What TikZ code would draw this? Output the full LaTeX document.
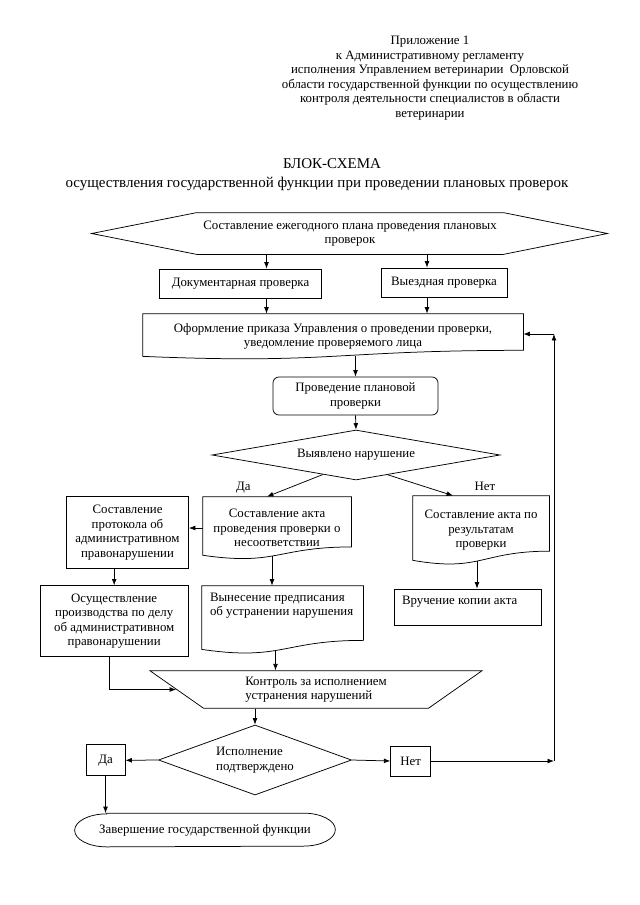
\documentclass[tikz,border=0pt]{standalone}
\usepackage{fontspec}
\setmainfont{Liberation Serif}
\usetikzlibrary{calc,arrows.meta,shapes.geometric,positioning}

\newdimen\pxlen
\pxlen=0.328125mm
\newcommand\bodyfont{\fontsize{12}{13.5}\selectfont}
\newcommand\titlefont{\fontsize{14}{16}\selectfont}

% outline of a document block (wavy bottom)
\newcommand\docoutline[1]{%
  \draw (#1.north west) -- (#1.north east)
    -- ($(#1.north east)!0.802!(#1.south east)$)
    .. controls ($(#1.north)!0.802!(#1.south)$) and ($(#1.north)!1.107!(#1.south)$)
    .. ($(#1.north west)!0.934!(#1.south west)$) -- cycle;}
% outline of the terminator
\newcommand\termoutline[1]{%
  \draw ([xshift=32\pxlen]#1.north west) -- ([xshift=-32\pxlen]#1.north east)
    arc[start angle=90, end angle=-90, x radius=32\pxlen, y radius=16.5\pxlen]
    -- ([xshift=32\pxlen]#1.south west)
    arc[start angle=270, end angle=90, x radius=32\pxlen, y radius=16.5\pxlen] -- cycle;}

\begin{document}
\begin{tikzpicture}[x=0.328125mm, y=-0.328125mm, >={Latex[length=6pt,width=4.5pt]}, line width=0.7pt,
    every node/.style={font=\bodyfont, inner sep=2pt},
    box/.style={draw, rectangle, align=center},
    plainbox/.style={rectangle, align=center},
    roundbox/.style={box, rounded corners=6\pxlen},
    decision/.style={draw, diamond, inner sep=0pt},
    fromdoc/.style={shorten <=-3.5\pxlen},
    lbl/.style={inner sep=0pt}]
    \useasboundingbox (0,0) rectangle (640,905);

    % Header
    \node[align=center] (annex) at (430,78) {Приложение 1\\к Административному регламенту\\исполнения Управлением ветеринарии\ \ Орловской\\области государственной функции по осуществлению\\контроля деятельности специалистов в области\\ветеринарии};
    \node (title) at (332,164) {\titlefont БЛОК-СХЕМА};
    \node (subtitle) at (317,184) {\titlefont осуществления государственной функции при проведении плановых проверок};

    % Plan (hexagon)
    \node[plainbox, minimum width=306\pxlen, minimum height=41\pxlen] (plan) at (350,233.5) {Составление ежегодного плана проведения плановых\\проверок};
    \draw (plan.north west) -- (plan.north east) -- ([xshift=104\pxlen]plan.east) -- (plan.south east)
        -- (plan.south west) -- ([xshift=-105\pxlen]plan.west) -- cycle;

    % Kinds of inspection
    \node[box, minimum width=162.5\pxlen, minimum height=29\pxlen] (docchk) at (240.5,283.5) {Документарная проверка};
    \node[box, minimum width=126\pxlen, minimum height=29\pxlen] (field) at (444,282.5) {Выездная проверка};

    % Order
    \node[plainbox, minimum width=380\pxlen, minimum height=45\pxlen] (order) at (333,336.5) {Оформление приказа Управления о проведении проверки,\\уведомление проверяемого лица};
    \docoutline{order}

    \node[roundbox, minimum width=165\pxlen, minimum height=38\pxlen] (inspect) at (355.5,396) {Проведение плановой\\проверки};

    % First decision
    \node[decision, aspect=5.76, minimum width=288\pxlen, minimum height=50\pxlen] (detect) at (356,455) {Выявлено нарушение};
    \node[lbl] (lyes) at (243.3,487.3) {Да};
    \node[lbl] (lno) at (485,486) {Нет};

    % Acts
    \node[plainbox, minimum width=148\pxlen, minimum height=62\pxlen] (act) at (277,528) {Составление акта\\проведения проверки о\\несоответствии};
    \docoutline{act}
    \node[plainbox, minimum width=136\pxlen, minimum height=68.5\pxlen] (resact) at (481,530.25) {Составление акта по\\результатам\\проверки};
    \docoutline{resact}
    \node[box, minimum width=122\pxlen, minimum height=72\pxlen] (protocol) at (127.5,532.5) {Составление\\протокола об\\административном\\правонарушении};

    % Measures
    \node[box, minimum width=148\pxlen, minimum height=71\pxlen] (proceed) at (114.2,621.3) {Осуществление\\производства по делу\\об административном\\правонарушении};
    \node[rectangle, inner xsep=8\pxlen, inner ysep=7\pxlen] (prescr) at (282.5,619.75)
        {\parbox[c][53.5\pxlen][t]{145\pxlen}{\raggedright Вынесение предписания\\об устранении нарушения}};
    \docoutline{prescr}
    \node[draw, rectangle, inner xsep=8\pxlen, inner ysep=7\pxlen] (deliver) at (467.5,607)
        {\parbox[c][22\pxlen][t]{131\pxlen}{\raggedright Вручение копии акта}};

    % Control
    \node[draw, trapezium, trapezium left angle=29.2, trapezium right angle=29.2, shape border rotate=180,
        trapezium stretches body, minimum width=332\pxlen, minimum height=37.5\pxlen, align=left] (control) at (316,689.5)
        {Контроль за исполнением\\устранения нарушений};

    % Second decision
    \node[decision, aspect=2.76, minimum width=193\pxlen, minimum height=70\pxlen, align=left] (confirm) at (255,760) {Исполнение\\подтверждено};
    \node[box, minimum width=39\pxlen, minimum height=31\pxlen] (yesbox) at (105.5,760.3) {Да};
    \node[box, minimum width=40\pxlen, minimum height=30\pxlen] (nobox) at (410.7,761) {Нет};
    \node[plainbox, minimum width=260\pxlen, minimum height=33\pxlen] (finish) at (205,830) {Завершение государственной функции};
    \termoutline{finish}

    \coordinate (loopb) at (554,761);
    \coordinate (loopt) at (554,334);

    % Connectors
    \draw[->] ([xshift=26\pxlen]docchk.north |- plan.south) -- ([xshift=26\pxlen]docchk.north);
    \draw[->] ([xshift=-17\pxlen]field.north |- plan.south) -- ([xshift=-17\pxlen]field.north);
    \draw[->] ([xshift=26\pxlen]docchk.south) -- ([xshift=26\pxlen]docchk.south |- order.north);
    \draw[->] ([xshift=-17\pxlen]field.south) -- ([xshift=-17\pxlen]field.south |- order.north);
    \draw[->, fromdoc] (inspect.north |- order.south) -- (inspect.north);
    \draw[->] (inspect.south) -- (detect.north);
    \draw[->] ($(detect.west)!0.77!(detect.south)$) -- ([xshift=-10\pxlen]act.north);
    \draw[->] ($(detect.south)!0.22!(detect.east)$) -- ([xshift=-28\pxlen]resact.north);
    \draw[->] (act.west) -- (protocol.east |- act.west);
    \draw[->] (protocol.south -| proceed.north) -- (proceed.north);
    \draw[->, fromdoc] ([xshift=-5\pxlen]act.south) -- ([xshift=-5\pxlen]act.south |- prescr.north);
    \draw[->, fromdoc] ([xshift=-4\pxlen]resact.south) -- ([xshift=-4\pxlen]resact.south |- deliver.north);
    \draw[->, fromdoc] ([xshift=-7\pxlen]prescr.south) -- ([xshift=-7\pxlen]prescr.south |- control.north);
    \draw[->] ([xshift=-5\pxlen]proceed.south) |- (control.west);
    \draw[->] (confirm.north |- control.south) -- (confirm.north);
    \draw[->] (confirm.west) -- (yesbox.east);
    \draw[->] (confirm.east) -- (nobox.west);
    \draw[->] (yesbox.south) -- (yesbox.south |- finish.north);
    \draw[->] (nobox.east |- loopb) -- (loopb);
    \draw[->] (loopb) -- (loopt);
    \draw[->] (loopt) -- (loopt -| order.east);
\end{tikzpicture}
\end{document}
